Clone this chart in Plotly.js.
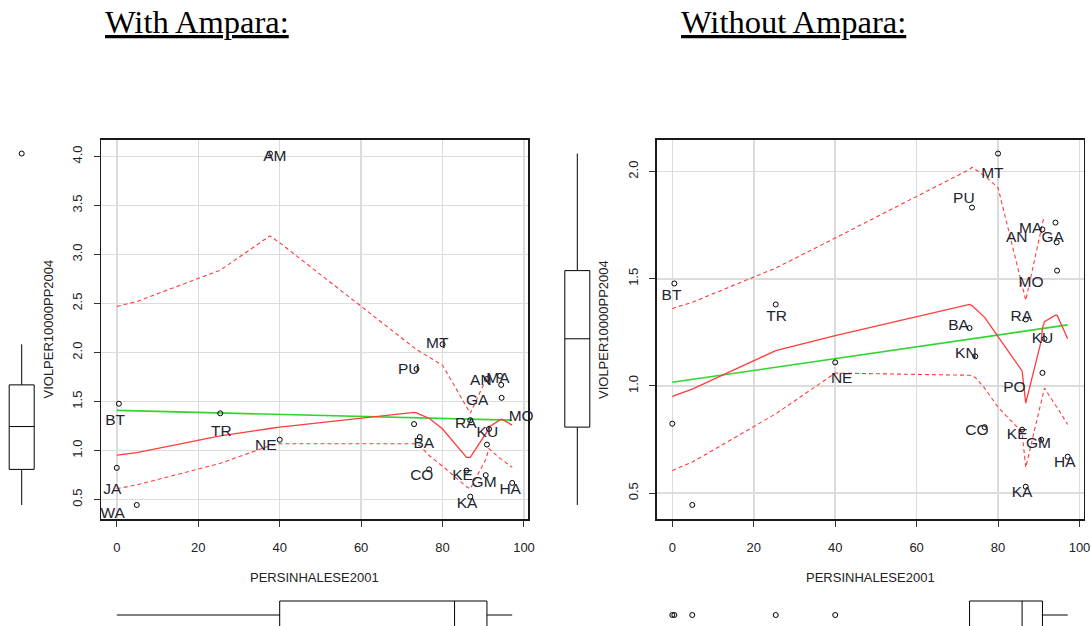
<!DOCTYPE html>
<html>
<head>
<meta charset="utf-8">
<script src="https://cdn.plot.ly/plotly-3.0.1.min.js"></script>
<style>
html,body{margin:0;padding:0;background:#fff;}
#chart{width:1091px;height:626px;}
</style>
</head>
<body>
<div id="chart"></div>
<script>
// ---------------- DATA ----------------
const districts    = ['AM','AN','BA','BT','CO','GA','GM','HA','JA','KA','KN','KE','KU','MT','MA','MO','NE','PO','PU','RA','TR','WA'];
const persinhalese = [37.6, 90.9, 73.0, 0.5, 76.7, 94.4, 90.6, 97.1, 0.0, 86.8, 74.4, 85.9, 91.4, 80.0, 94.1, 94.5, 40.0, 90.9, 73.6, 86.8, 25.4, 4.9];
const violper      = [4.03, 1.73, 1.27, 1.478, 0.808, 1.67, 0.749, 0.67, 0.824, 0.53, 1.138, 0.796, 1.22, 2.084, 1.762, 1.538, 1.11, 1.061, 1.832, 1.31, 1.38, 0.445];

// smoother vertices - with Ampara
const smoothXWith   = [0, 0.5, 4.9, 25.4, 37.6, 40, 73, 73.6, 74.4, 76.7, 80, 85.9, 86.8, 90.6, 90.9, 91.4, 94.1, 94.4, 94.5, 97.1];
const loessWith     = [0.95, 0.955, 0.98, 1.15, 1.225, 1.24, 1.39, 1.385, 1.37, 1.33, 1.22, 0.93, 0.93, 1.16, 1.19, 1.24, 1.32, 1.32, 1.32, 1.26];
const upperWith     = [2.47, 2.475, 2.52, 2.84, 3.19, 3.12, 2.04, 2.03, 2.01, 1.95, 1.87, 1.445, 1.38, 1.72, 1.75, 1.78, null, null, null, null];
const lowerWith     = [0.61, 0.615, 0.65, 0.87, 1.05, 1.07, 1.07, 1.06, 1.05, 0.95, 0.84, 0.63, 0.61, 0.91, 0.95, 1.02, 0.92, 0.91, 0.91, 0.83];
const lmXWith       = [0, 97.1];
const lmYWith       = [1.41, 1.31];

// smoother vertices - without Ampara
const smoothXWithout = [0, 0.5, 4.9, 25.4, 40, 73, 73.6, 74.4, 76.7, 80, 85.9, 86.8, 90.6, 90.9, 91.4, 94.1, 94.4, 94.5, 97.1];
const loessWithout   = [0.95, 0.955, 0.985, 1.165, 1.235, 1.38, 1.375, 1.36, 1.32, 1.23, 1.07, 0.92, 1.21, 1.27, 1.30, 1.33, 1.33, 1.33, 1.22];
const upperWithout   = [1.36, 1.365, 1.39, 1.55, 1.69, 2.01, 2.02, 2.01, 1.98, 1.925, 1.47, 1.40, 1.73, 1.76, 1.79, null, null, null, null];
const lowerWithout   = [0.605, 0.61, 0.645, 0.87, 1.06, 1.05, 1.045, 1.04, 0.99, 0.90, 0.784, 0.62, 0.926, 0.95, 0.99, 0.91, 0.905, 0.90, 0.82];
const lmXWithout     = [0, 97.1];
const lmYWithout     = [1.017, 1.285];

// point labels (text anchor positions, data units)
const labWithNames = ['AM','MT','PU','AN','MA','GA','MO','RA','KU','BA','CO','KE','GM','HA','KA','BT','TR','NE','JA','WA'];
const labWithX     = [38.8, 78.7, 71.7, 89.4, 93.6, 88.5, 99.3, 85.7, 91.0, 75.4, 74.9, 84.9, 90.2, 96.6, 86.0, -0.4, 25.7, 36.6, -1.1, -1.0];
const labWithY     = [3.99, 2.09, 1.82, 1.71, 1.73, 1.50, 1.34, 1.27, 1.18, 1.07, 0.74, 0.74, 0.67, 0.60, 0.45, 1.30, 1.19, 1.05, 0.60, 0.35];

const labWithoutNames = ['MT','PU','AN','MA','GA','MO','RA','BA','KU','KN','PO','CO','KE','GM','HA','KA','NE','BT','TR'];
const labWithoutX     = [78.6, 71.6, 84.6, 88.0, 93.4, 88.1, 85.7, 70.3, 90.9, 72.1, 84.0, 74.8, 84.7, 89.9, 96.4, 85.9, 41.6, -0.2, 25.6];
const labWithoutY     = [1.99, 1.87, 1.69, 1.73, 1.69, 1.48, 1.32, 1.28, 1.22, 1.15, 0.99, 0.79, 0.77, 0.73, 0.64, 0.50, 1.03, 1.42, 1.32];

const xTicks = [0, 20, 40, 60, 80, 100];
const yTicksWith = [0.5, 1.0, 1.5, 2.0, 2.5, 3.0, 3.5, 4.0];
const yTicksWithout = [0.5, 1.0, 1.5, 2.0];
const xTitle = 'PERSINHALESE2001';
const yTitle = 'VIOLPER10000PP2004';
const panelTitles = ['With Ampara:', 'Without Ampara:'];

// ---------------- helpers ----------------
const W = 1091, H = 626;
const fx = p => p / W;
const fy = p => 1 - p / H;
const SANS = 'Liberation Sans, Arial, sans-serif';
const SERIF = 'Liberation Serif, Times New Roman, serif';

const xNoAm = persinhalese.filter((v, i) => districts[i] !== 'AM');
const yNoAm = violper.filter((v, i) => districts[i] !== 'AM');

const GREEN = '#2fd62f';
const RED = '#ff3b3b';

const X_RANGE = [-3.884, 100.984];
const Y_RANGE_WITH = [0.302, 4.173];
const Y_RANGE_WITHOUT = [0.3794, 2.1496];

function panelTraces(xa, ya, px, py, sx, lo, up, dn, lmx, lmy, ln, lx, ly) {
  return [
    {type:'scatter', mode:'lines', x: lmx, y: lmy, xaxis: xa, yaxis: ya,
     line:{color: GREEN, width: 1.6}, hoverinfo:'skip', showlegend:false},
    {type:'scatter', mode:'lines', x: sx, y: lo, xaxis: xa, yaxis: ya,
     line:{color: RED, width: 1.3}, hoverinfo:'skip', showlegend:false},
    {type:'scatter', mode:'lines', x: sx, y: up, xaxis: xa, yaxis: ya, connectgaps:false,
     line:{color: RED, width: 1.1, dash:'4px,3px'}, hoverinfo:'skip', showlegend:false},
    {type:'scatter', mode:'lines', x: sx, y: dn, xaxis: xa, yaxis: ya,
     line:{color: RED, width: 1.1, dash:'4px,3px'}, hoverinfo:'skip', showlegend:false},
    {type:'scatter', mode:'markers', x: px, y: py, xaxis: xa, yaxis: ya,
     marker:{symbol:'circle-open', size:5, color:'#000', line:{width:1, color:'#000'}},
     hoverinfo:'skip', showlegend:false},
    {type:'scatter', mode:'text', x: lx, y: ly, text: ln, xaxis: xa, yaxis: ya,
     textposition:'middle center', cliponaxis:false,
     textfont:{family: SANS, size: 15.5, color:'#1e2430'}, hoverinfo:'skip', showlegend:false}
  ];
}

const boxStyle = {quartilemethod:'inclusive', boxpoints:'outliers', pointpos:0, jitter:0, whiskerwidth:0,
  fillcolor:'#fff', line:{color:'#000', width:1},
  marker:{symbol:'circle-open', size:5, color:'#000', line:{width:1, color:'#000'}},
  hoverinfo:'skip', showlegend:false};
function vbox(vals, xa, ya) {
  return Object.assign({type:'box', y: vals, x0: 0, xaxis: xa, yaxis: ya, width: 25}, boxStyle);
}
function hbox(vals, xa, ya) {
  return Object.assign({type:'box', x: vals, y0: 0, orientation:'h', xaxis: xa, yaxis: ya, width: 28}, boxStyle);
}

const traces = [].concat(
  panelTraces('x', 'y', persinhalese, violper, smoothXWith, loessWith, upperWith, lowerWith, lmXWith, lmYWith, labWithNames, labWithX, labWithY),
  panelTraces('x2', 'y2', xNoAm, yNoAm, smoothXWithout, loessWithout, upperWithout, lowerWithout, lmXWithout, lmYWithout, labWithoutNames, labWithoutX, labWithoutY),
  [vbox(violper, 'x3', 'y3'), vbox(yNoAm, 'x4', 'y4'), hbox(persinhalese, 'x5', 'y5'), hbox(xNoAm, 'x6', 'y6')]
);

const tickfont = {family: SANS, size: 13, color:'#222'};
function mainX(dom, anchor) {
  return {domain: dom, range: X_RANGE, anchor: anchor, tickvals: xTicks,
    ticks:'outside', ticklen:6, tickcolor:'#333', tickwidth:1,
    showline:true, mirror:true, linecolor:'#1a1a1a', linewidth:1.5,
    showgrid:true, gridcolor:'#dcdcdc', gridwidth:1.5, zeroline:false,
    tickfont: tickfont, ticklabelstandoff: 10, fixedrange:true};
}
function mainY(dom, range, tv, anchor) {
  return {domain: dom, range: range, anchor: anchor, tickvals: tv, tickformat:'.1f', tickangle:-90,
    ticks:'outside', ticklen:6, tickcolor:'#333', tickwidth:1,
    showline:true, mirror:true, linecolor:'#1a1a1a', linewidth:1.5,
    showgrid:true, gridcolor:'#dcdcdc', gridwidth:1.5, zeroline:false,
    tickfont: tickfont, ticklabelstandoff: 6, fixedrange:true};
}
const hidden = (dom, range, anchor) => ({domain: dom, range: range, anchor: anchor, visible:false,
  showgrid:false, zeroline:false, showline:false, fixedrange:true});

const leftDomX  = [fx(101), fx(528)];
const rightDomX = [fx(656.5), fx(1083.5)];
const mainDomY  = [fy(519), fy(139.5)];
const hboxDomY  = [0, 36 / H];

const layout = {
  width: W, height: H,
  margin:{l:0, r:0, t:0, b:0},
  paper_bgcolor:'#fff', plot_bgcolor:'rgba(0,0,0,0)',
  showlegend:false,
  xaxis:  mainX(leftDomX, 'y'),
  yaxis:  mainY(mainDomY, Y_RANGE_WITH, yTicksWith, 'x'),
  xaxis2: mainX(rightDomX, 'y2'),
  yaxis2: mainY(mainDomY, Y_RANGE_WITHOUT, yTicksWithout, 'x2'),
  // vertical marginal boxes
  xaxis3: hidden([0, fx(60)], [-21.7, 38.3], 'y3'),
  yaxis3: hidden(mainDomY, Y_RANGE_WITH, 'x3'),
  xaxis4: hidden([fx(545), fx(640)], [-32.3, 62.7], 'y4'),
  yaxis4: hidden(mainDomY, Y_RANGE_WITHOUT, 'x4'),
  // horizontal marginal boxes
  xaxis5: hidden(leftDomX, X_RANGE, 'y5'),
  yaxis5: hidden(hboxDomY, [-11, 25], 'x5'),
  xaxis6: hidden(rightDomX, X_RANGE, 'y6'),
  yaxis6: hidden(hboxDomY, [-11, 25], 'x6'),
  annotations: [
    {text: '<u>' + panelTitles[0] + '</u>', xref:'paper', yref:'paper', x: fx(196.5), y: fy(22), showarrow:false,
     xanchor:'center', yanchor:'middle', font:{family: SERIF, size: 32.5, color:'#000'}},
    {text: '<u>' + panelTitles[1] + '</u>', xref:'paper', yref:'paper', x: fx(793), y: fy(22), showarrow:false,
     xanchor:'center', yanchor:'middle', font:{family: SERIF, size: 32.5, color:'#000'}},
    {text: xTitle, xref:'paper', yref:'paper', x: fx(314.5), y: fy(577), showarrow:false,
     xanchor:'center', yanchor:'middle', font:{family: SANS, size: 13, color:'#222'}},
    {text: xTitle, xref:'paper', yref:'paper', x: fx(870), y: fy(577), showarrow:false,
     xanchor:'center', yanchor:'middle', font:{family: SANS, size: 13, color:'#222'}},
    {text: yTitle, xref:'paper', yref:'paper', x: fx(47.5), y: fy(329), showarrow:false, textangle:-90,
     xanchor:'center', yanchor:'middle', font:{family: SANS, size: 13, color:'#222'}},
    {text: yTitle, xref:'paper', yref:'paper', x: fx(603), y: fy(329), showarrow:false, textangle:-90,
     xanchor:'center', yanchor:'middle', font:{family: SANS, size: 13, color:'#222'}}
  ]
};

Plotly.newPlot('chart', traces, layout, {staticPlot:true, displayModeBar:false});
</script>
</body>
</html>
